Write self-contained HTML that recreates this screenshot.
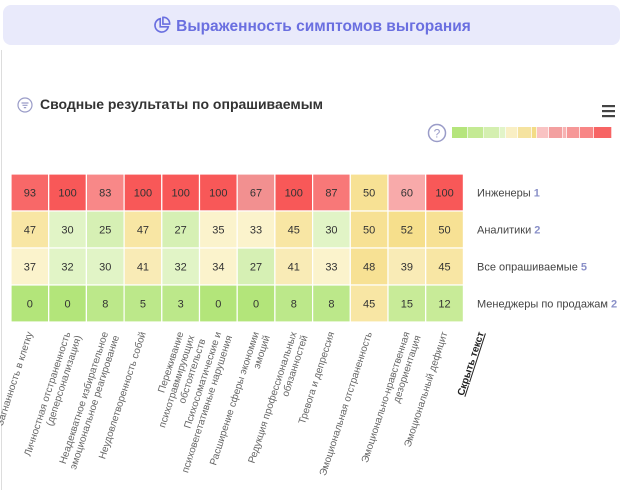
<!DOCTYPE html>
<html><head><meta charset="utf-8"><style>
body{margin:0;width:624px;height:490px;background:#fff;font-family:"Liberation Sans",sans-serif;overflow:hidden;position:relative}
.hdr{position:absolute;left:3px;top:5px;width:617px;height:40px;background:#e9eafb;border-radius:8px}
.ttl{position:absolute;left:0;width:624px;top:16px;text-align:center;font-size:15.5px;font-weight:bold;color:#6a6fe0}
.sub{position:absolute;left:40px;top:96px;font-size:14px;font-weight:bold;color:#333}
.vl{position:absolute;left:1px;top:50px;width:1px;height:440px;background:#ddd}
</style></head><body>
<div class="vl"></div>
<div class="hdr"></div>
<div class="ttl"><svg width="18" height="18" viewBox="0 0 20 20" style="vertical-align:-3px;margin-right:5px"><path d="M8 3 A7.5 7.5 0 1 0 17 12 L8 12 Z" fill="none" stroke="#6a6fe0" stroke-width="1.8"/><path d="M11 1.5 A7 7 0 0 1 18.5 9 L11 9 Z" fill="none" stroke="#6a6fe0" stroke-width="1.8"/></svg>Выраженность симптомов выгорания</div>
<svg style="position:absolute;left:17px;top:97px" width="16" height="16" viewBox="0 0 16 16"><circle cx="8" cy="8" r="7" fill="none" stroke="#9a9cc8" stroke-width="1.2"/><path d="M4.5 6h7M5.5 8.3h5M6.8 10.6h2.4" stroke="#9a9cc8" stroke-width="1.2"/></svg>
<div class="sub">Сводные результаты по опрашиваемым</div>
<svg width="624" height="490" style="position:absolute;left:0;top:0" font-family="Liberation Sans, sans-serif">
<g fill="#444"><rect x="602" y="105" width="13" height="2.2"/><rect x="602" y="110" width="13" height="2.2"/><rect x="602" y="115" width="13" height="2.2"/></g>
<circle cx="437" cy="133" r="8.5" fill="none" stroke="#9a9cc8" stroke-width="1.5"/>
<text x="437" y="137.5" font-size="12" fill="#9a9cc8" text-anchor="middle">?</text>
<g id="leg"></g>
<g id="grid"></g>
<g id="labs" font-size="10" fill="#666"></g>
</svg>
<script>
var leg=['#b5e57c','#c4ea94','#d4efb0','#e2f4c8','#f9efc4','#f5e3a0','#f3dc86','#f9c3c3','#f3a0a0','#f7b2b2','#f69898','#f88686','#f76464'];
var lw=[16,16,16,6,12,14,5,12,14,4,13,14,18];
var s='',x=452;for(var i=0;i<lw.length;i++){s+='<rect x="'+x+'" y="127" width="'+(lw[i]-0.7)+'" height="11" fill="'+leg[i]+'"/>';x+=lw[i];}
document.getElementById('leg').innerHTML=s;
var data=[[93,100,83,100,100,100,67,100,87,50,60,100],[47,30,25,47,27,35,33,45,30,50,52,50],[37,32,30,41,32,34,27,41,33,48,39,45],[0,0,8,5,3,0,0,8,8,45,15,12]];
var names=[['Инженеры','1'],['Аналитики','2'],['Все опрашиваемые','5'],['Менеджеры по продажам','2']];
function col(v){if(v>=100)return'#f85858';if(v>=90)return'#f86868';if(v>=85)return'#f87878';if(v>=80)return'#f88888';if(v>=65)return'#f29090';if(v>=55)return'#f8aaaa';if(v>=51)return'#f6df8c';if(v>=48)return'#f7e194';if(v>=43)return'#f8e6a4';if(v>=38)return'#f9ebb6';if(v>=33)return'#fbf3cc';if(v>=29)return'#e1f4c6';if(v>=20)return'#d6f0b4';if(v>=10)return'#c8eb98';if(v>=2)return'#bce88a';return'#b3e57a';}
var g='',cw=37.7,rh=37;
for(var r=0;r<4;r++){for(var c=0;c<12;c++){var X=11+c*cw,Y=174+r*rh,v=data[r][c];
g+='<rect x="'+X+'" y="'+Y+'" width="'+cw+'" height="'+rh+'" fill="'+col(v)+'" stroke="#fff" stroke-width="1.2"/>';
g+='<text x="'+(X+cw/2)+'" y="'+(Y+rh/2+4)+'" font-size="11" fill="#333" text-anchor="middle">'+v+'</text>';}
g+='<text x="477" y="'+(174+r*rh+rh/2+4)+'" font-size="11" fill="#444">'+names[r][0]+' <tspan fill="#8a90c8" font-weight="bold">'+names[r][1]+'</tspan></text>';}
document.getElementById('grid').innerHTML=g;
var L=[['Загнанность в клетку'],['Личностная отстраненность','(деперсонализация)'],['Неадекватное избирательное','эмоциональное реагирование'],['Неудовлетворенность собой'],['Переживание','психотравмирующих','обстоятельств'],['Психосоматические и','психовегетативные нарушения'],['Расширение сферы экономии','эмоций'],['Редукция профессиональных','обязанностей'],['Тревога и депрессия'],['Эмоциональная отстраненность'],['Эмоционально-нравственная','дезориентация'],['Эмоциональный дефицит']];
var t='';
for(var c=0;c<12;c++){var cx=11+cw*(c+0.5)+3;t+='<text transform="translate('+cx+',333) rotate(-72)" text-anchor="end">';
for(var k=0;k<L[c].length;k++)t+='<tspan x="0" dy="'+(k?11.5:0)+'">'+L[c][k]+'</tspan>';t+='</text>';}
t+='<text transform="translate(484,333) rotate(-72)" text-anchor="end" font-weight="bold" fill="#222" text-decoration="underline">Скрыть текст</text>';
document.getElementById('labs').innerHTML=t;
</script>
</body></html>
